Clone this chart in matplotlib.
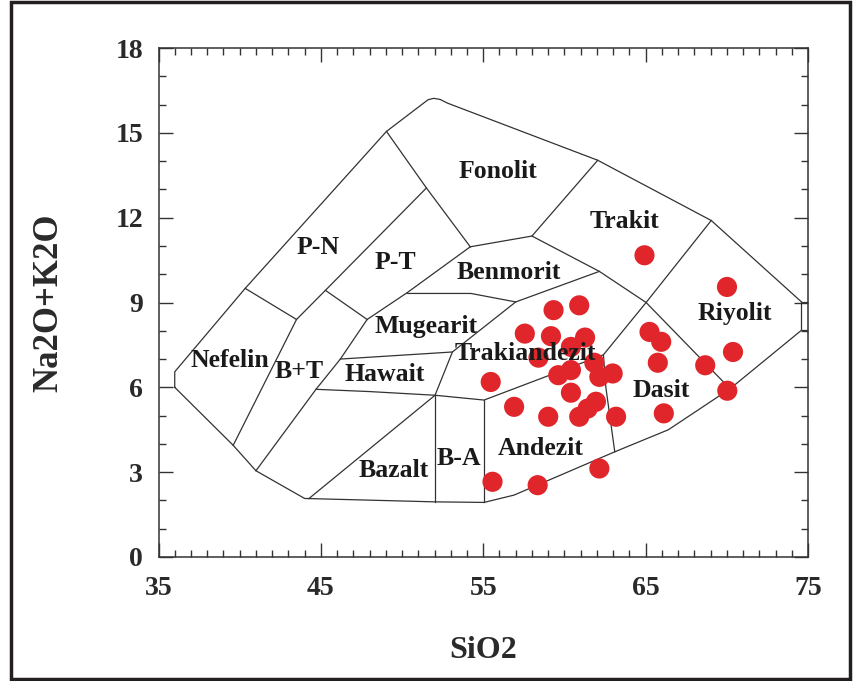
import matplotlib
matplotlib.use("Agg")
import matplotlib.pyplot as plt
from matplotlib.patches import Rectangle
from matplotlib.ticker import MultipleLocator

plt.rcParams['font.family'] = ['Liberation Serif', 'DejaVu Serif']
plt.rcParams['font.weight'] = 'bold'

# Sample analyses (wt%)
sio2 = [59.33, 60.91, 57.56, 59.17, 61.27, 60.40, 58.40, 61.84, 59.62, 60.40,
        62.15, 62.97, 55.46, 60.40, 56.90, 61.94, 61.43, 59.00, 60.91, 63.18,
        64.93, 70.01, 65.24, 65.96, 65.75, 70.38, 68.67, 70.03, 66.12, 62.15,
        55.57, 58.35]
alkali = [8.73, 8.90, 7.90, 7.81, 7.76, 7.43, 7.05, 6.87, 6.43, 6.61,
          6.37, 6.49, 6.19, 5.81, 5.31, 5.49, 5.25, 4.96, 4.96, 4.96,
          10.67, 9.55, 7.96, 7.61, 6.87, 7.25, 6.78, 5.88, 5.08, 3.13,
          2.66, 2.54]

# TAS field boundaries (SiO2, Na2O+K2O)
outer = [(36.0, 6.0), (36.0, 6.55), (40.34, 9.5), (49.04, 15.05), (51.6, 16.17),
         (51.95, 16.22), (52.35, 16.18), (52.8, 16.05), (62.05, 14.03), (69.04, 11.9),
         (74.6, 9.02), (74.6, 8.02), (70.2, 5.95), (66.4, 4.5), (63.1, 3.72),
         (56.9, 2.19), (55.05, 1.93), (52.03, 1.95), (44.0, 2.07), (41.0, 3.05),
         (39.6, 3.95), (36.0, 6.0)]
edge_top = [(74.6, 9.02), (75.0, 9.02)]
edge_bottom = [(74.6, 8.02), (75.0, 8.02)]
nefelin_line = [(40.34, 9.5), (43.5, 8.4), (39.6, 3.95)]
pn_line = [(43.5, 8.4), (45.28, 9.43), (51.5, 13.05)]
fonolit_left = [(49.04, 15.05), (51.5, 13.05), (54.2, 10.97)]
bt_line = [(41.0, 3.05), (44.7, 5.93), (46.2, 7.0), (47.85, 8.4), (50.32, 9.35), (54.2, 10.97)]
pt_bottom = [(45.28, 9.43), (47.85, 8.4)]
benmorit_top = [(54.2, 10.97), (58.0, 11.35), (62.05, 14.03)]
trakit_bottom = [(58.0, 11.35), (62.15, 10.1), (65.03, 9.0), (70.2, 5.95)]
riyolit_left = [(69.04, 11.9), (65.03, 9.0), (62.4, 7.15), (62.55, 6.0), (63.1, 3.72)]
benmorit_bottom = [(62.15, 10.1), (57.0, 9.02), (53.1, 7.25), (52.03, 5.72)]
mugearit_top = [(50.32, 9.32), (54.24, 9.32), (57.0, 9.02)]
hawait_top = [(46.2, 7.0), (53.1, 7.25)]
hawait_bottom = [(44.7, 5.93), (48.0, 5.85), (52.03, 5.72), (55.05, 5.55), (62.4, 7.15)]
ba_left = [(52.03, 5.72), (52.03, 1.95)]
ba_right = [(55.05, 5.55), (55.05, 1.93)]
bazalt_left = [(44.25, 2.06), (52.03, 5.72)]

boundaries = [outer, edge_top, edge_bottom, nefelin_line, pn_line, fonolit_left,
              bt_line, pt_bottom, benmorit_top, trakit_bottom, riyolit_left,
              benmorit_bottom, mugearit_top, hawait_top, hawait_bottom,
              ba_left, ba_right, bazalt_left]

field_names = ['Fonolit', 'Trakit', 'Benmorit', 'P-N', 'P-T', 'Mugearit', 'Nefelin',
               'B+T', 'Hawait', 'Bazalt', 'B-A', 'Trakiandezit', 'Dasit', 'Andezit',
               'Riyolit']
field_xy = [(55.9, 13.65), (63.7, 11.85), (56.6, 10.05), (44.8, 10.95), (49.6, 10.4),
            (51.45, 8.15), (39.4, 6.95), (43.65, 6.55), (48.9, 6.47), (49.5, 3.07),
            (53.5, 3.5), (57.6, 7.2), (65.95, 5.9), (58.55, 3.85), (70.5, 8.6)]

fig = plt.figure(figsize=(8.57, 6.81), dpi=100)
ax = fig.add_axes([158.5 / 857, 124 / 681, 649.5 / 857, 509 / 681])

for line in boundaries:
    xs, ys = zip(*line)
    ax.plot(xs, ys, color='#333333', lw=0.9, zorder=2)

ax.scatter(sio2, alkali, s=14.5 ** 2, color='#E0262B', edgecolors='none', zorder=3)

for name, (x, y) in zip(field_names, field_xy):
    ax.text(x, y, name, ha='center', va='center', fontsize=18.5, fontweight='bold',
            color='#1a1a1a', zorder=4)

ax.set_xlim(35, 75)
ax.set_ylim(0, 18)
ax.set_xticks([35, 45, 55, 65, 75])
ax.set_yticks([0, 3, 6, 9, 12, 15, 18])
ax.xaxis.set_minor_locator(MultipleLocator(1))
ax.yaxis.set_minor_locator(MultipleLocator(1))
ax.tick_params(which='both', direction='in', top=True, right=True,
               color='#333333', width=1)
ax.tick_params(which='major', length=10, labelsize=20, labelcolor='#2a2a2a')
ax.tick_params(axis='x', which='major', pad=14)
ax.tick_params(axis='y', which='major', pad=11)
ax.tick_params(which='minor', length=5)
for lab in ax.get_xticklabels() + ax.get_yticklabels():
    lab.set_fontweight('bold')
for sp in ax.spines.values():
    sp.set_color('#333333')
    sp.set_linewidth(1.1)

ax.set_xlabel('SiO2', fontsize=23, fontweight='bold', color='#2a2a2a', labelpad=25)
ax.set_ylabel('Na2O+K2O', fontsize=25, fontweight='bold', color='#2a2a2a', labelpad=36)

# frame round the whole figure
fig.add_artist(Rectangle((11 / 857, 2 / 681), 839 / 857, 677.5 / 681,
                         transform=fig.transFigure, fill=False, lw=2.5,
                         ec='#231f20'))

fig.savefig('out.png', dpi=100)
